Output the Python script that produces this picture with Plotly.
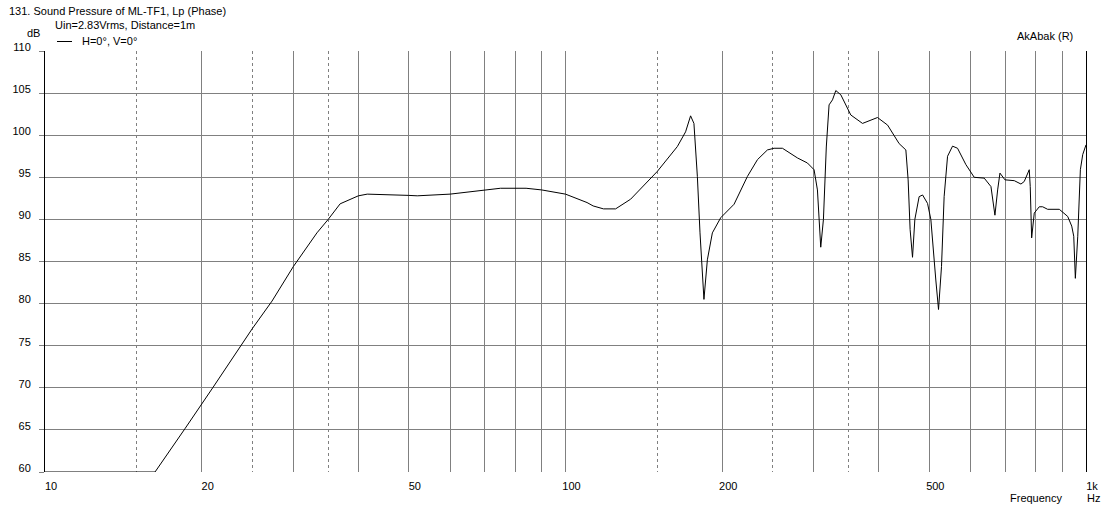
import math
import plotly.graph_objects as go

# ---- data ----
freq_hz = [10, 16.27, 18.6, 20, 21.0, 25, 27.3, 30, 33.3, 35, 36.9, 40, 41.6, 50, 51.9, 60, 70, 75, 84, 90,
           100, 110, 113, 118.3, 124.8, 133.4, 150.1, 164, 170.1, 173.9, 176.5, 179.2, 181.3, 184.5, 187.3,
           191.5, 198.7, 210.8, 223.6, 233.8, 244.3, 251.6, 261.1, 279.0, 291.6, 300.3, 304.8, 309.3, 313.0,
           317, 320.9, 325.8, 330.6, 338.0, 353.3, 372.1, 397.6, 415.7, 437.5, 450.7, 455.3, 459.3, 464.2,
           469.0, 478.0, 485.3, 496.1, 503.4, 514.6, 520.8, 527.7, 533.9, 542.0, 554.1, 566.5, 587.9, 609.9,
           637.5, 656.7, 668.4, 676.5, 683.4, 698.7, 728.1, 749.9, 760.9, 778.0, 781.4, 786.3, 795.4, 813.2,
           825.5, 843.9, 888.6, 922.2, 938.8, 947.2, 954.0, 964.2, 975.4, 985.6, 1000]
spl_db = [60, 60, 65.2, 68.0, 70.0, 77.0, 80.3, 84.4, 88.4, 90.0, 91.85, 92.8, 93.0, 92.85, 92.8, 93.0, 93.5,
          93.7, 93.7, 93.5, 93.0, 92.0, 91.6, 91.25, 91.25, 92.4, 95.7, 98.65, 100.4, 102.3, 101.4, 95.1,
          88.4, 80.5, 85.2, 88.4, 90.2, 91.8, 95.1, 97.1, 98.25, 98.45, 98.45, 97.3, 96.7, 95.9, 93.5, 86.7,
          90.0, 98.6, 103.6, 104.2, 105.3, 104.8, 102.4, 101.4, 102.1, 101.2, 99.0, 98.25, 94.7, 88.8, 85.5,
          90.0, 92.7, 92.9, 91.9, 90.0, 82.8, 79.3, 84.4, 92.7, 97.5, 98.7, 98.45, 96.5, 95.0, 94.9, 93.9,
          90.5, 93.5, 95.5, 94.7, 94.6, 94.2, 94.5, 95.9, 93.9, 87.8, 90.75, 91.5, 91.5, 91.2, 91.2, 90.35,
          89.2, 88.0, 83.0, 88.0, 95.9, 97.7, 98.85]
assert len(freq_hz) == len(spl_db), (len(freq_hz), len(spl_db))

grid_solid = [10, 20, 30, 40, 50, 60, 70, 80, 90, 100, 200, 300, 400, 500, 600, 700, 800, 900, 1000]
grid_text = ['10', '20', '', '', '50', '', '', '', '', '100', '200', '', '', '500', '', '', '', '', '1k']
grid_dashed = [15, 25, 35, 150, 250, 350]
label_vals = [10, 20, 50, 100, 200, 500, 1000]
y_ticks = [60, 65, 70, 75, 80, 85, 90, 95, 100, 105, 110]

# ---- layout geometry ----
W, H = 1112, 510
L, R, T, B = 45, 26, 51, 38
PW, PH = W - L - R, H - T - B
GRID = '#808080'
FONT = 'Liberation Sans'


def px(x):
    return (x - L) / PW


def py(y):
    return (H - B - y) / PH


fig = go.Figure()
fig.add_trace(go.Scatter(x=freq_hz, y=spl_db, mode='lines', line=dict(color='black', width=1),
                         name='H=0°, V=0°', showlegend=False, hoverinfo='x+y'))

fig.update_layout(
    width=W, height=H, margin=dict(l=L, r=R, t=T, b=B, pad=0),
    paper_bgcolor='white', plot_bgcolor='white',
    font=dict(family=FONT, size=11, color='black'),
    xaxis=dict(type='log', range=[1, 3], tickvals=grid_solid, ticktext=grid_text,
               showgrid=True, gridcolor=GRID, gridwidth=1, ticks='', showline=False, zeroline=False,
               ticklabelshift=6, ticklabelstandoff=6,
               minor=dict(tickvals=grid_dashed, showgrid=True, gridcolor=GRID, griddash='3px,3px',
                          gridwidth=1, ticks='')),
    xaxis2=dict(type='log', range=[1, 3], overlaying='x', anchor='y', side='bottom',
                tickvals=label_vals, ticks='outside', ticklen=4, tickcolor=GRID,
                showticklabels=False, showgrid=False, showline=False, zeroline=False),
    yaxis=dict(range=[60, 110], tickvals=y_ticks, showgrid=True, gridcolor=GRID, gridwidth=1,
               ticks='outside', ticklen=5, tickcolor=GRID, showline=True, linecolor='black',
               linewidth=1, mirror=True, zeroline=False, ticklabelshift=-4, ticklabelstandoff=6),
)

# bold vertical line at 100 Hz
fig.add_shape(type='line', xref='x', yref='paper', x0=math.log10(100), x1=math.log10(100), y0=0, y1=1,
              line=dict(color='black', width=1), layer='between')

# legend key
fig.add_shape(type='line', xref='paper', yref='paper', x0=px(57), x1=px(72), y0=py(41.5), y1=py(41.5),
              line=dict(color='black', width=1))

texts = [
    ('131. Sound Pressure of ML-TF1, Lp (Phase)', 7, 11),
    ('Uin=2.83Vrms, Distance=1m', 53, 25),
    ('dB', 25, 33),
    ('H=0°, V=0°', 80, 41),
    ('AkAbak (R)', 1015, 36),
    ('Frequency', 1008, 498),
    ('Hz', 1085, 498),
]
for t, x, y in texts:
    fig.add_annotation(text=t, xref='paper', yref='paper', x=px(x), y=py(y), xanchor='left',
                       yanchor='middle', showarrow=False, font=dict(family=FONT, size=11, color='black'))

fig.write_html('out.html', config={'displayModeBar': False},
               post_script="document.body.style.margin='0px';document.body.style.overflow='hidden';")
